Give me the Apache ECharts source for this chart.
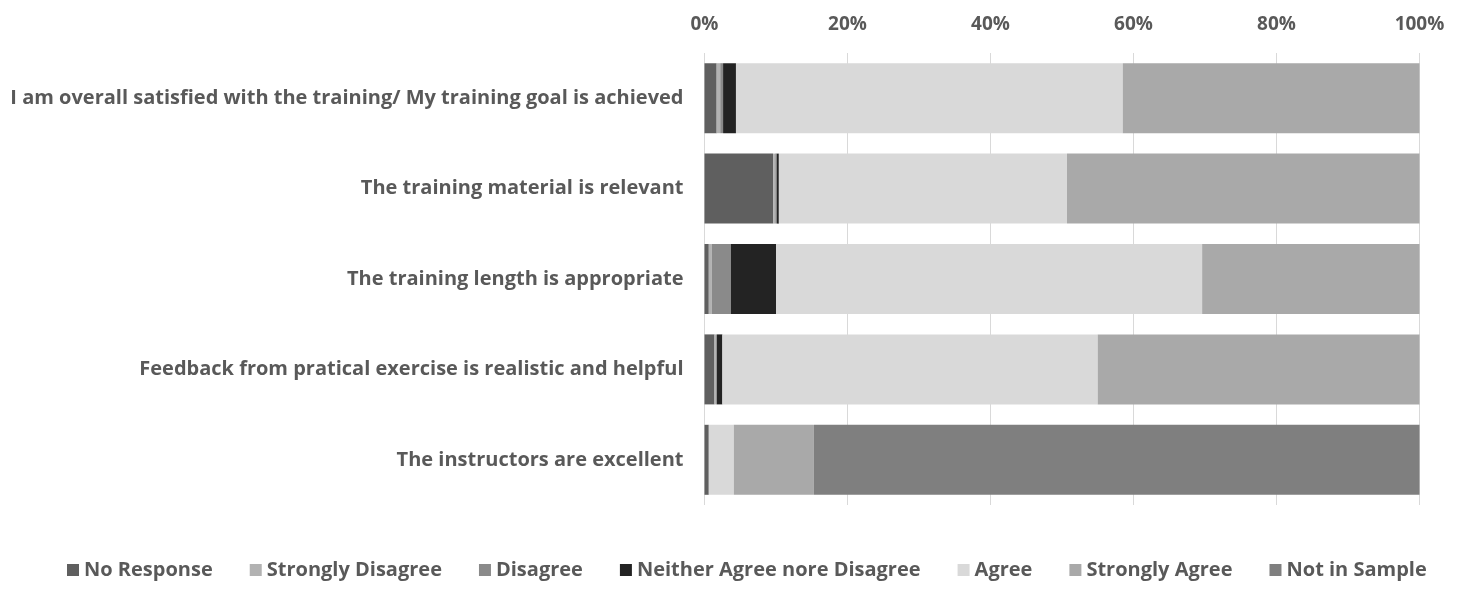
<!DOCTYPE html>
<html>
<head>
<meta charset="utf-8">
<script src="https://cdn.jsdelivr.net/npm/echarts@6/dist/echarts.min.js"></script>
<style>
  html, body { margin: 0; padding: 0; background: #fff; }
  #chart { width: 1466px; height: 612px; }
</style>
</head>
<body>
<div id="chart"></div>
<script>
  // categories, top to bottom
  const categories = [
    'I am overall satisfied with the training/ My training goal is achieved',
    'The training material is relevant',
    'The training length is appropriate',
    'Feedback from pratical exercise is realistic and helpful',
    'The instructors are excellent'
  ]
  const xTicks = [0, 20, 40, 60, 80, 100]

  // percentages
  const noResponse = [1.7, 9.6, 0.6, 1.4, 0.6]
  const stronglyDisagree = [0.5, 0.3, 0.4, 0.3, 0]
  const disagree = [0.4, 0.2, 2.7, 0, 0]
  const neither = [1.8, 0.3, 6.3, 0.8, 0]
  const agree = [54.1, 40.3, 59.6, 52.5, 3.5]
  const stronglyAgree = [41.5, 49.3, 30.4, 45.0, 11.2]
  const notInSample = [0, 0, 0, 0, 84.7]

  const seriesDefs = [
    {name: 'No Response', data: noResponse, color: '#5f5f5f'},
    {name: 'Strongly Disagree', data: stronglyDisagree, color: '#b2b2b2'},
    {name: 'Disagree', data: disagree, color: '#8a8a8a'},
    {name: 'Neither Agree nore Disagree', data: neither, color: '#232323'},
    {name: 'Agree', data: agree, color: '#d9d9d9'},
    {name: 'Strongly Agree', data: stronglyAgree, color: '#a9a9a9'},
    {name: 'Not in Sample', data: notInSample, color: '#7f7f7f'}
  ]

  const textColor = '#595959'
  const font = '"Open Sans", sans-serif'

  const myChart = echarts.init(document.getElementById('chart'))
  const option = {
    backgroundColor: '#fff',
    animation: false,
    textStyle: {fontFamily: font},
    grid: {
      left: 704.5,
      right: 46.5,
      top: 53,
      bottom: 107
    },
    legend: {
      bottom: 27,
      left: 62,
      icon: 'rect',
      itemWidth: 12,
      itemHeight: 12,
      itemGap: 37,
      textStyle: {color: textColor, fontWeight: 'bold', fontSize: 20, fontFamily: font},
      data: seriesDefs.map(s => s.name)
    },
    xAxis: {
      type: 'value',
      position: 'top',
      min: xTicks[0],
      max: xTicks[xTicks.length - 1],
      interval: 20,
      axisLine: {show: false},
      axisTick: {show: false},
      axisLabel: {
        formatter: '{value}%',
        color: textColor,
        fontWeight: 'bold',
        fontSize: 19,
        fontFamily: font,
        margin: 19
      },
      splitLine: {lineStyle: {color: '#d9d9d9', width: 1}}
    },
    yAxis: {
      type: 'category',
      inverse: true,
      data: categories,
      axisLine: {show: false},
      axisTick: {show: false},
      axisLabel: {
        color: textColor,
        fontWeight: 'bold',
        fontSize: 20,
        fontFamily: font,
        margin: 21
      }
    },
    series: seriesDefs.map(s => ({
      name: s.name,
      type: 'bar',
      stack: 'total',
      barWidth: 70,
      data: s.data,
      itemStyle: {color: s.color}
    }))
  }
  myChart.setOption(option)
</script>
</body>
</html>
